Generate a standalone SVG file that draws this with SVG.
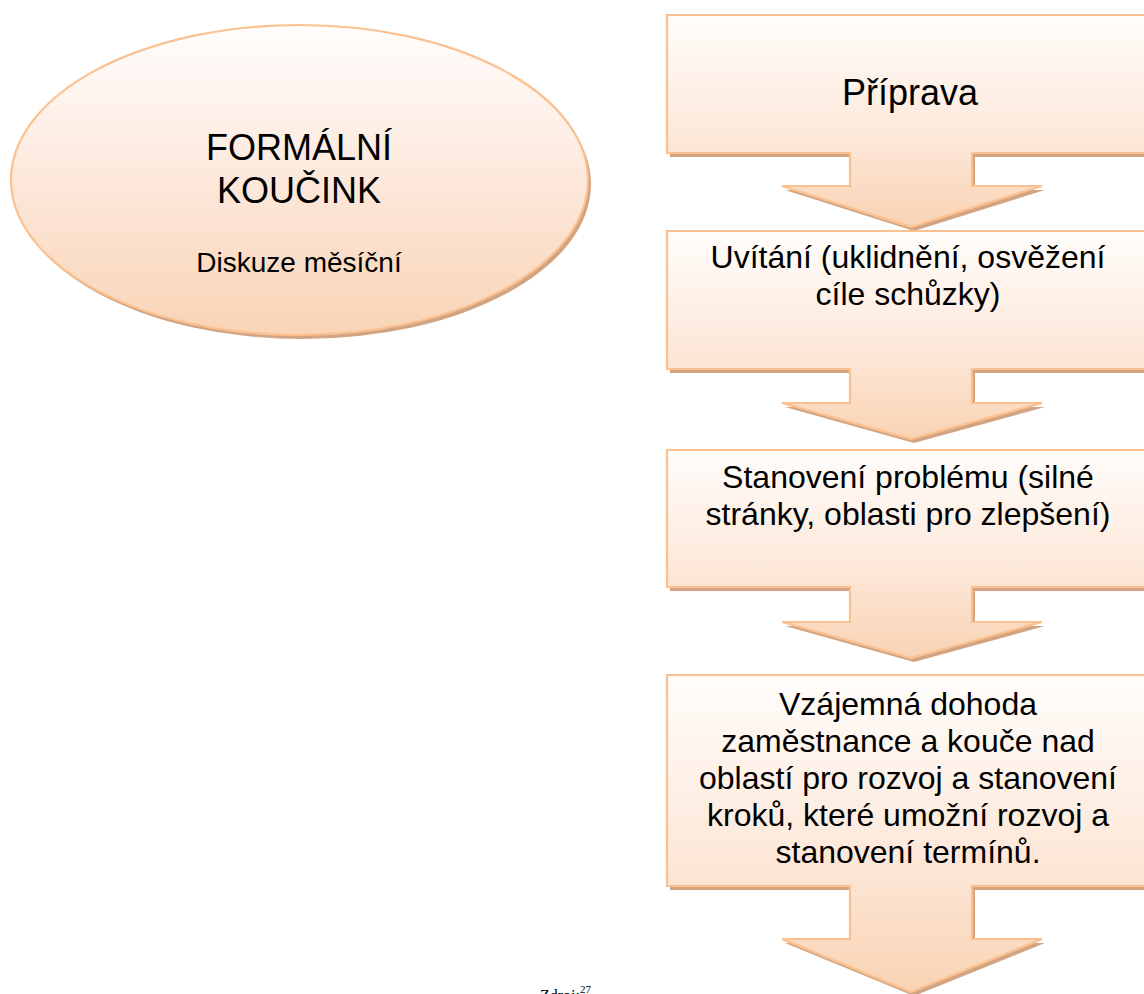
<svg xmlns="http://www.w3.org/2000/svg" width="1144" height="994" viewBox="0 0 1144 994">
<defs>
<linearGradient id="gEll" x1="0" y1="0" x2="0" y2="1">
<stop offset="0" stop-color="#fffdfc"/>
<stop offset="0.45" stop-color="#fdeadf"/>
<stop offset="1" stop-color="#f9d4b5"/>
</linearGradient>
<linearGradient id="gBox" x1="0" y1="0" x2="0" y2="1">
<stop offset="0" stop-color="#fffdfb"/>
<stop offset="0.55" stop-color="#fde9db"/>
<stop offset="1" stop-color="#f9d3b3"/>
</linearGradient>
<style>
.shape{fill:url(#gBox);stroke:#fac090;stroke-width:2.2;stroke-linejoin:miter}
.ell{fill:url(#gEll);stroke:#fac090;stroke-width:2.2}
.shadow{fill:#d2a482;stroke:none}
.t{font-family:"Liberation Sans",Arial,sans-serif;fill:#000;text-anchor:middle}
.big{font-size:36px}
.mid{font-size:32px}
.small{font-size:28px}
.src{font-family:"Liberation Serif","Times New Roman",serif;fill:#000}
</style>
</defs>

<g id="node-formalni">
<ellipse class="shadow" cx="302.5" cy="184" rx="288.5" ry="155"/>
<ellipse class="ell" cx="299.5" cy="180" rx="288.5" ry="155"/>
<text class="t big" x="299" y="160">FORMÁLNÍ</text>
<text class="t big" x="299" y="203">KOUČINK</text>
<text class="t small" x="299" y="272">Diskuze měsíční</text>
</g>

<g id="connectors"></g>

<g id="node-priprava">
<path class="shadow" d="M670 19 H1158 V157 H975 V190 H1045 L914 231 L785 190 H853 V157 H670 Z"/>
<path class="shape" d="M667 15 H1155 V153 H972 V186 H1042 L911 227 L782 186 H850 V153 H667 Z"/>
<text class="t big" x="910" y="105">Příprava</text>
</g>

<g id="node-uvitani">
<path class="shadow" d="M670 235 H1158 V373 H975 V407 H1045 L914 443 L785 407 H853 V373 H670 Z"/>
<path class="shape" d="M667 231 H1155 V369 H972 V403 H1042 L911 439 L782 403 H850 V369 H667 Z"/>
<text class="t mid" x="908" y="268">Uvítání (uklidnění, osvěžení</text>
<text class="t mid" x="908" y="305">cíle schůzky)</text>
</g>

<g id="node-stanoveni">
<path class="shadow" d="M670 454 H1158 V591 H975 V626 H1045 L914 662 L785 626 H853 V591 H670 Z"/>
<path class="shape" d="M667 450 H1155 V587 H972 V622 H1042 L911 658 L782 622 H850 V587 H667 Z"/>
<text class="t mid" x="908" y="488">Stanovení problému (silné</text>
<text class="t mid" x="908" y="525">stránky, oblasti pro zlepšení)</text>
</g>

<g id="node-dohoda">
<path class="shadow" d="M670 679 H1158 V890 H975 V943 H1045 L914 996 L785 943 H853 V890 H670 Z"/>
<path class="shape" d="M667 675 H1155 V886 H972 V939 H1042 L911 992 L782 939 H850 V886 H667 Z"/>
<text class="t mid" x="908" y="715">Vzájemná dohoda</text>
<text class="t mid" x="908" y="752">zaměstnance a kouče nad</text>
<text class="t mid" x="908" y="789">oblastí pro rozvoj a stanovení</text>
<text class="t mid" x="908" y="826">kroků, které umožní rozvoj a</text>
<text class="t mid" x="908" y="863">stanovení termínů.</text>
</g>

<text class="src" x="540" y="1001" font-size="16">Zdroj:<tspan font-size="11" dy="-8">27</tspan></text>
</svg>
